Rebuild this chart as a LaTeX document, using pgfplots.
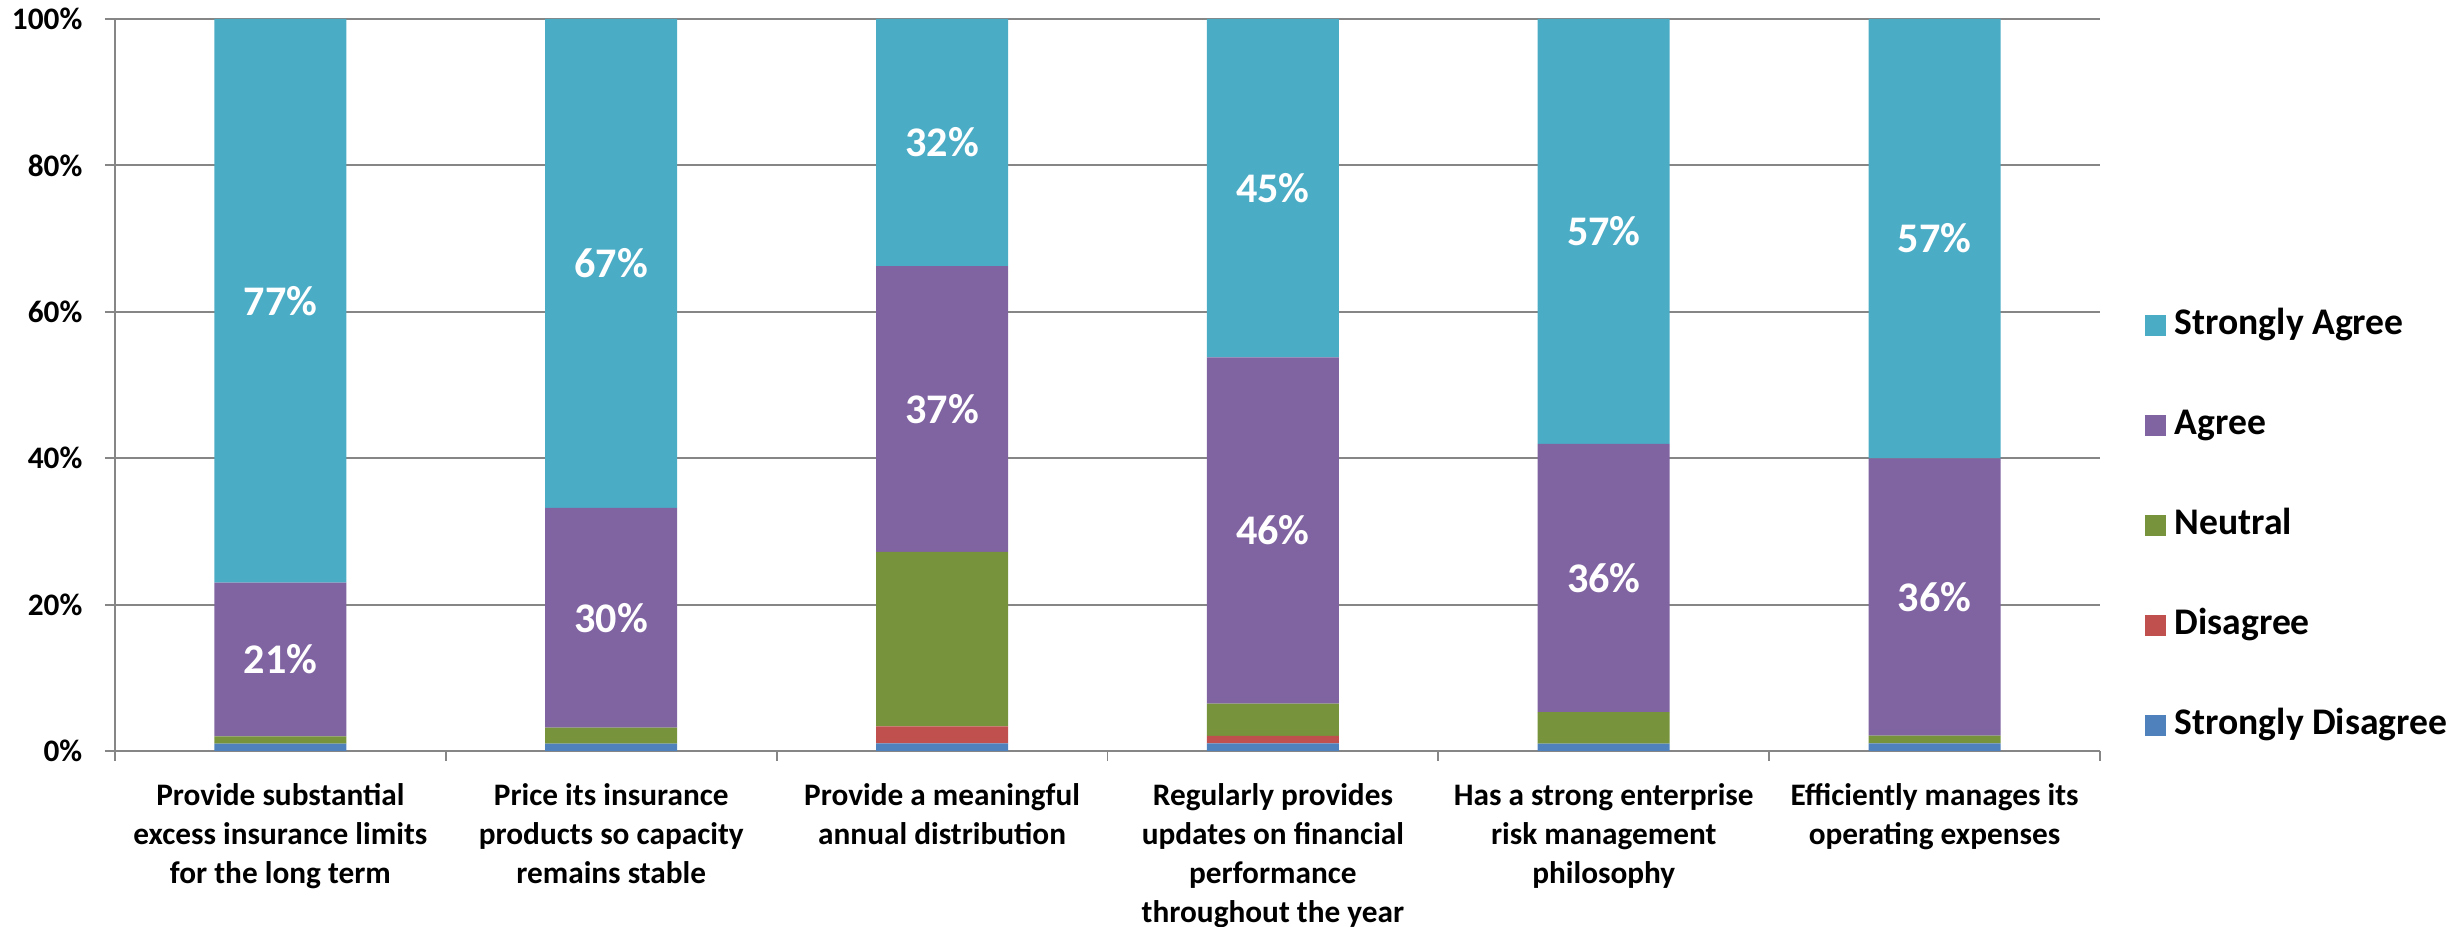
\documentclass[border=0pt]{standalone}
\usepackage{pgfplots}
\pgfplotsset{compat=1.18}
\usepackage{pgfplotstable}
\usepackage{fontspec}
\setmainfont{Carlito}

\definecolor{sdis}{HTML}{4F81BD}
\definecolor{dis}{HTML}{C0504D}
\definecolor{neu}{HTML}{77933C}
\definecolor{agr}{HTML}{8064A2}
\definecolor{sagr}{HTML}{4BACC6}
\definecolor{axgray}{HTML}{868686}

% shares already scaled to 100 per bar; la / lsa = printed labels
\pgfplotstableread{
x sd   d    n     a     sa    la lsa
0 1.00 0.00 1.00  21.00 77.00 21 77
1 1.00 0.00 2.20  30.00 66.80 30 67
2 1.05 2.32 23.84 39.03 33.76 37 32
3 1.03 1.03 4.42  47.28 46.24 46 45
4 1.02 0.00 4.28  36.66 58.04 36 57
5 1.05 0.00 1.05  37.89 60.01 36 57
}\survey

\pgfplotsset{
  sqleg/.style={legend image code/.code={\fill[##1] (0mm,-1.05mm) rectangle (2.1mm,1.05mm);}},
  frame/.style={scale only axis, width=198.5mm, height=73.2mm,
    xmin=-0.5, xmax=5.5, ymin=0, ymax=100},
  seglabel/.style={draw=none, mark=none, nodes near coords={\pgfplotspointmeta\%},
    point meta=explicit symbolic,
    every node near coord/.append style={anchor=center, text=white,
      font=\fontsize{12}{14}\selectfont\bfseries}},
}

\begin{document}
\begin{tikzpicture}
\useasboundingbox (-11.5mm,-17.6mm) rectangle (233.8mm,75.1mm);
\begin{axis}[
  frame,
  ybar stacked, bar width=13.2mm,
  xtick={0,...,5},
  xticklabels={{Provide substantial\\excess insurance limits\\for the long term},
    {Price its insurance\\products so capacity\\remains stable},
    {Provide a meaningful\\annual distribution},
    {Regularly provides\\updates on financial\\performance\\throughout the year},
    {Has a strong enterprise\\risk management\\philosophy},
    {Efficiently manages its\\operating expenses}},
  xticklabel style={align=center, anchor=north, inner sep=0pt, yshift=-2.2mm,
    font=\fontsize{8.9}{11.1}\selectfont\bfseries},
  major x tick style={draw=none},
  minor xtick={-0.5,0.5,...,5.5},
  ytick={0,20,...,100},
  yticklabels={0\%,20\%,40\%,60\%,80\%,100\%},
  yticklabel style={inner sep=0pt, xshift=-2.2mm, font=\fontsize{8.9}{10}\selectfont\bfseries},
  axis x line*=bottom, axis y line*=left,
  tick align=outside,
  major tick length=1mm, minor tick length=1mm,
  ymajorgrids, grid style={axgray, line width=0.55pt},
  axis line style={axgray, line width=0.55pt},
  tick style={axgray, line width=0.55pt},
  reverse legend,
  legend cell align=left,
  legend style={draw=none, fill=none, at={(1.0222,0.605)}, anchor=north west,
    inner sep=0pt, row sep=6.6mm, column sep=0.9mm,
    font=\fontsize{10.7}{12.8}\selectfont\bfseries,
    nodes={inner sep=0pt, text height=2.6mm, text depth=0.8mm}},
]
\addplot[fill=sdis, draw=none, sqleg] table[x=x, y=sd] {\survey};
\addlegendentry{Strongly Disagree}
\addplot[fill=dis, draw=none, sqleg] table[x=x, y=d] {\survey};
\addlegendentry{Disagree}
\addplot[fill=neu, draw=none, sqleg] table[x=x, y=n] {\survey};
\addlegendentry{Neutral}
\addplot[fill=agr, draw=none, sqleg] table[x=x, y=a] {\survey};
\addlegendentry{Agree}
\addplot[fill=sagr, draw=none, sqleg] table[x=x, y=sa] {\survey};
\addlegendentry{Strongly Agree}
\end{axis}
% labels in the middle of the Agree / Strongly Agree segments
\begin{axis}[frame, hide axis]
\addplot[seglabel] table[x=x, y expr=\thisrow{sd}+\thisrow{d}+\thisrow{n}+0.5*\thisrow{a}, meta=la] {\survey};
\addplot[seglabel] table[x=x, y expr=100-0.5*\thisrow{sa}, meta=lsa] {\survey};
\end{axis}
\end{tikzpicture}
\end{document}
